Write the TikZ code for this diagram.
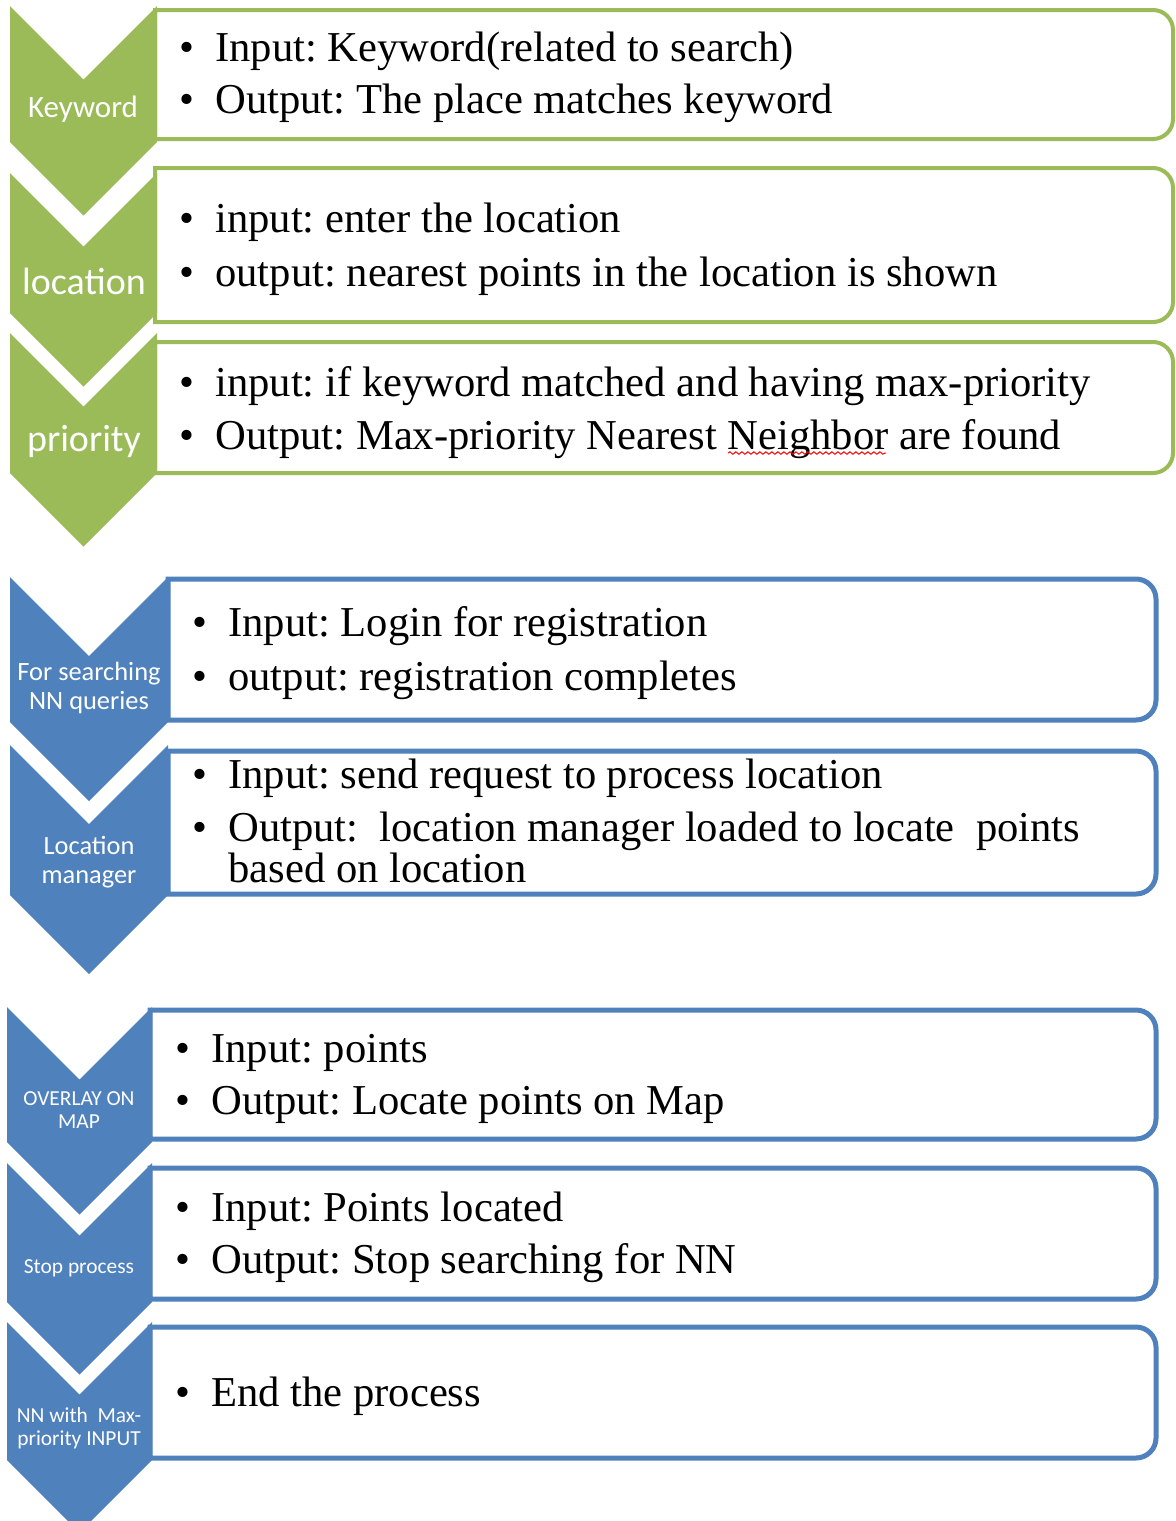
\documentclass[tikz,border=0pt]{standalone}
\usepackage{fontspec}
\setmainfont{Liberation Serif}
\newfontfamily\labfont{Carlito}
\usetikzlibrary{decorations.pathmorphing}
\definecolor{chgreen}{HTML}{9BBB59}
\definecolor{chblue}{HTML}{4F81BD}

% chevron: #1 left x, #2 right x, #3 top y, #4 bottom y (of the straight sides), #5 colour
\newcommand\chevron[5]{%
  \pgfmathsetmacro\cmid{(#1+#2)/2}\pgfmathsetmacro\cdep{(#2-#1)/2}%
  \fill[#5] (#1,#3) -- (\cmid,#3+\cdep) -- (#2,#3) -- (#2,#4)
            -- (\cmid,#4+\cdep) -- (#1,#4) -- cycle;}

% text box with rounded right corners: #1 name, #2 x1, #3 y1, #4 x2, #5 y2, #6 style
\newcommand\infobox[6]{%
  \draw[#6] (#2,#5) -- (#2,#3) -- (#4-20,#3)
        .. controls (#4-9,#3) and (#4,#3+9) .. (#4,#3+20) -- (#4,#5-20)
        .. controls (#4,#5-9) and (#4-9,#5) .. (#4-20,#5) -- cycle;
  \coordinate (#1) at ({(#2+#4)/2},{(#3+#5)/2});}

\newcommand\bul{\llap{•\hspace{10.5pt}}}

\tikzset{
  greenbox/.style={draw=chgreen, line width=2pt, fill=white},
  bluebox/.style={draw=chblue, line width=2.5pt, fill=white},
  item/.style={anchor=base west, inner sep=0pt, text=black,
               font=\fontsize{21.3}{25}\selectfont\frenchspacing},
  lab/.style={text=white, align=center, inner sep=0pt},
  labbig/.style={lab, font=\labfont\fontsize{19}{22}\selectfont},
  labkw/.style={lab, font=\labfont\fontsize{15.5}{18}\selectfont},
  labmid/.style={lab, font=\labfont\fontsize{13.2}{14.5}\selectfont},
  labsmall/.style={lab, font=\labfont\fontsize{10.7}{11.5}\selectfont},
}

\begin{document}
\begin{tikzpicture}[x=0.5pt, y=-0.5pt]
\useasboundingbox (0,0) rectangle (1176,1521);
\clip (0,0) rectangle (1176,1521);

% ---------- first group (green) ----------
\infobox{g1}{155}{10}{1173}{139}{greenbox}
\infobox{g2}{155}{168}{1173}{322}{greenbox}
\infobox{g3}{155}{342}{1173}{473}{greenbox}
\chevron{10}{157}{6}{142}{chgreen}
\chevron{10}{157}{173}{313}{chgreen}
\chevron{10}{157}{333}{473}{chgreen}

\node[labkw]  (kw)   at (83,109) {Keyword};
\node[labbig] (loc)  at (84,281) {location};
\node[labbig] (prio) at (84,441) {priority};

\node[item] (g1a) at (215,61)  {\bul Input: Keyword(related to search)};
\node[item] (g1b) at (215,113) {\bul Output: The place matches keyword};
\node[item] (g2a) at (215,232) {\bul input: enter the location};
\node[item] (g2b) at (215,286) {\bul output: nearest points in the location is shown};
\node[item] (g3a) at (215,396) {\bul input: if keyword matched and having max-priority};
\node[item] (g3b) at (215,449) {\bul Output: Max-priority Nearest Neighbor are found};
\draw[red, line width=0.5pt, decorate,
      decoration={snake, amplitude=0.6pt, segment length=3pt}]
  (728,453) -- (886,453);

% ---------- second group (blue) ----------
\infobox{b1}{168}{579}{1156}{720}{bluebox}
\infobox{b2}{168}{751}{1156}{894}{bluebox}
\chevron{10}{168}{577}{722}{chblue}
\chevron{10}{168}{745}{895}{chblue}

\node[labmid] (nnq) at (89,688) {For searching\\NN queries};
\node[labmid] (lm)  at (89,862) {Location\\manager};

\node[item] (b1a) at (228,636) {\bul Input: Login for registration};
\node[item] (b1b) at (228,690) {\bul output: registration completes};
\node[item] (b2a) at (228,788) {\bul Input: send request to process location};
\node[item] (b2b) at (228,841) {\bul Output:\ \ location manager loaded to locate\ \ points};
\node[item] (b2c) at (228,882) {based on location};

% ---------- third group (blue) ----------
\infobox{c1}{150}{1010}{1156}{1139}{bluebox}
\infobox{c2}{150}{1168}{1156}{1299}{bluebox}
\infobox{c3}{150}{1327}{1156}{1458}{bluebox}
\chevron{7}{152}{1007}{1142}{chblue}
\chevron{7}{152}{1163}{1302}{chblue}
\chevron{7}{152}{1322}{1460}{chblue}

\node[labsmall] (ovl)  at (79,1110) {OVERLAY ON\\MAP};
\node[labsmall] (stop) at (79,1268) {Stop process};
\node[labsmall] (nnm)  at (79,1428) {NN with\ \ Max-\\priority INPUT};

\node[item] (c1a) at (211,1062) {\bul Input: points};
\node[item] (c1b) at (211,1114) {\bul Output: Locate points on Map};
\node[item] (c2a) at (211,1221) {\bul Input: Points located};
\node[item] (c2b) at (211,1273) {\bul Output: Stop searching for NN};
\node[item] (c3a) at (211,1406) {\bul End the process};
\end{tikzpicture}
\end{document}
